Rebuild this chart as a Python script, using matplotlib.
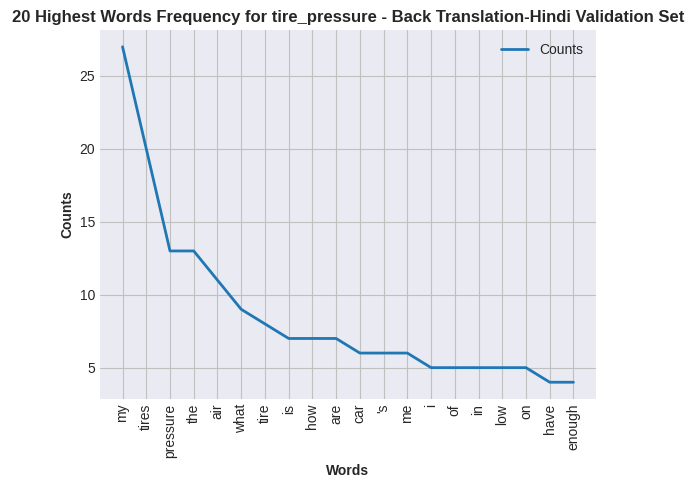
import matplotlib
matplotlib.use("Agg")
import matplotlib.pyplot as plt

# word frequencies (top 20)
words = ["my", "tires", "pressure", "the", "air", "what", "tire", "is", "how", "are",
         "car", "'s", "me", "i", "of", "in", "low", "on", "have", "enough"]
counts = [27, 20, 13, 13, 11, 9, 8, 7, 7, 7, 6, 6, 6, 5, 5, 5, 5, 5, 4, 4]

plt.style.use("seaborn-v0_8-darkgrid")
plt.rcParams["font.family"] = ["Liberation Sans", "DejaVu Sans"]

fig, ax = plt.subplots(figsize=(6.96, 4.88), dpi=100)
fig.subplots_adjust(left=100/696, right=596/696, top=1-30/488, bottom=1-399/488)

ax.grid(True, color="silver")
ax.plot(range(len(words)), counts, linewidth=2, label="Counts")
ax.set_xticks(range(len(words)))
ax.set_xticklabels(words, rotation=90)
ax.set_ylabel("Counts", fontweight="bold")
ax.set_xlabel("Words", fontweight="bold")
ax.set_title("20 Highest Words Frequency for tire_pressure - Back Translation-Hindi Validation Set",
             fontweight="bold")
ax.legend(loc="upper right")

fig.savefig("out.png", dpi=100)
